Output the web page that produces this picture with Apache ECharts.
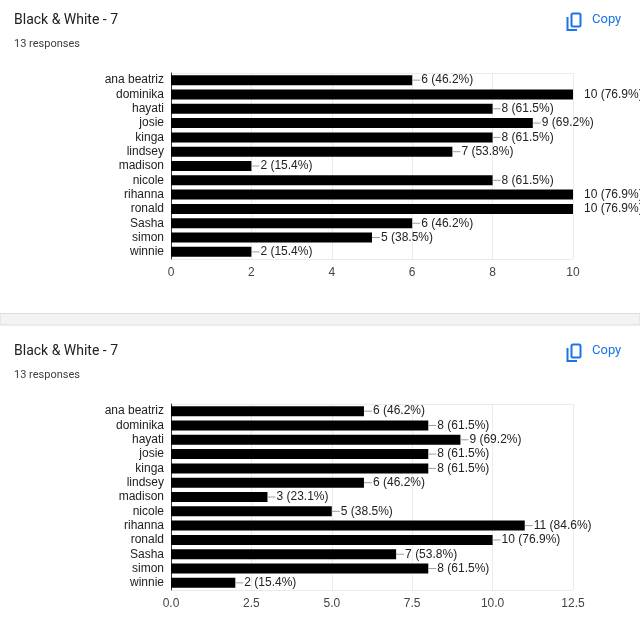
<!DOCTYPE html>
<html>
<head>
<meta charset="utf-8">
<script src="https://cdn.jsdelivr.net/npm/echarts@6/dist/echarts.min.js"></script>
<style>
html,body{margin:0;padding:0;background:#fff;}
#c{width:640px;height:636px;}
</style>
</head>
<body>
<div id="c"></div>
<script>
const categories = ['ana beatriz','dominika','hayati','josie','kinga','lindsey','madison','nicole','rihanna','ronald','Sasha','simon','winnie'];
const values1 = [6,10,8,9,8,7,2,8,10,10,6,5,2];
const values2 = [6,8,9,8,8,6,3,5,11,10,7,8,2];
const responses = 13;
const titleText = 'Black & White - 7';
const subText = '13 responses';
const axis1 = {min:0, max:10, interval:2};
const axis2 = {min:0, max:12.5, interval:2.5};

const chart = echarts.init(document.getElementById('c'));
const labelFont = 'Liberation Sans, Arial, sans-serif';

function makeLabel(maxV) {
  return {
    show: true,
    position: 'right',
    distance: 0,
    fontFamily: labelFont,
    fontSize: 12,
    color: '#222',
    formatter: function (p) {
      const pct = (p.value / responses * 100).toFixed(1);
      const lead = p.value >= maxV ? '{g|}' : '{l|}';
      return lead + '{t|' + p.value + ' (' + pct + '%)}';
    },
    rich: {
      l: {width: 8, height: 1, backgroundColor: '#9e9e9e'},
      g: {width: 10, height: 1},
      t: {fontFamily: labelFont, fontSize: 12, color: '#222', padding: [0,0,0,1]}
    }
  };
}

function catAxis(gi) {
  return {
    type: 'category', gridIndex: gi, data: categories, inverse: true,
    axisLine: {show: true, lineStyle: {color: '#333', width: 1}},
    axisTick: {show: false},
    axisLabel: {interval: 0, fontFamily: labelFont, fontSize: 12, color: '#222', margin: 7},
    splitLine: {show: false}
  };
}
function valAxis(gi, a, dec) {
  return {
    type: 'value', gridIndex: gi, min: a.min, max: a.max, interval: a.interval,
    axisLine: {show: false}, axisTick: {show: false},
    axisLabel: {fontFamily: labelFont, fontSize: 12, color: '#444', margin: 8,
      formatter: v => dec ? v.toFixed(1) : String(v)},
    splitLine: {show: true, lineStyle: {color: '#ebebeb', width: 1}}
  };
}

function header(off) {
  return [
    {type: 'text', left: 14, top: 13 + off, style: {text: titleText, font: '14px Roboto, sans-serif', fill: '#202124'}},
    {type: 'text', left: 14, top: 39 + off, style: {text: subText, font: '11px Roboto, sans-serif', fill: '#3c4043'}},
    {type: 'text', left: 592, top: 13 + off, style: {text: 'Copy', font: '13px Roboto, sans-serif', fill: '#1a73e8'}},
    {type: 'rect', shape: {x: 571.5, y: 13.5 + off, width: 9, height: 13, r: 1.5}, style: {fill: 'none', stroke: '#1a73e8', lineWidth: 2}},
    {type: 'polyline', shape: {points: [[567.5, 17 + off], [567.5, 30 + off], [577, 30 + off]]}, style: {fill: 'none', stroke: '#1a73e8', lineWidth: 2}}
  ];
}

const graphics = [].concat(header(0), header(331), [
  {type: 'rect', shape: {x: 0, y: 313.5, width: 640, height: 11.5}, style: {fill: '#f1f3f4', stroke: '#dadce0', lineWidth: 1}},
  {type: 'line', shape: {x1: 171, y1: 73.5, x2: 573, y2: 73.5}, style: {stroke: '#ebebeb', lineWidth: 1}},
  {type: 'line', shape: {x1: 171, y1: 404.5, x2: 573, y2: 404.5}, style: {stroke: '#ebebeb', lineWidth: 1}},
  {type: 'line', shape: {x1: 171, y1: 259.5, x2: 573, y2: 259.5}, style: {stroke: '#ebebeb', lineWidth: 1}},
  {type: 'line', shape: {x1: 171, y1: 590.5, x2: 573, y2: 590.5}, style: {stroke: '#ebebeb', lineWidth: 1}}
]);

chart.setOption({
  animation: false,
  backgroundColor: '#fff',
  grid: [
    {left: 171, right: 67, top: 73, height: 186, containLabel: false},
    {left: 171, right: 67, top: 404, height: 186, containLabel: false}
  ],
  xAxis: [valAxis(0, axis1, false), valAxis(1, axis2, true)],
  yAxis: [catAxis(0), catAxis(1)],
  series: [
    {type: 'bar', xAxisIndex: 0, yAxisIndex: 0, data: values1, barWidth: 10,
      itemStyle: {color: '#000'}, label: makeLabel(axis1.max), z: 3},
    {type: 'bar', xAxisIndex: 1, yAxisIndex: 1, data: values2, barWidth: 10,
      itemStyle: {color: '#000'}, label: makeLabel(axis2.max), z: 3}
  ],
  graphic: graphics
});
</script>
</body>
</html>
